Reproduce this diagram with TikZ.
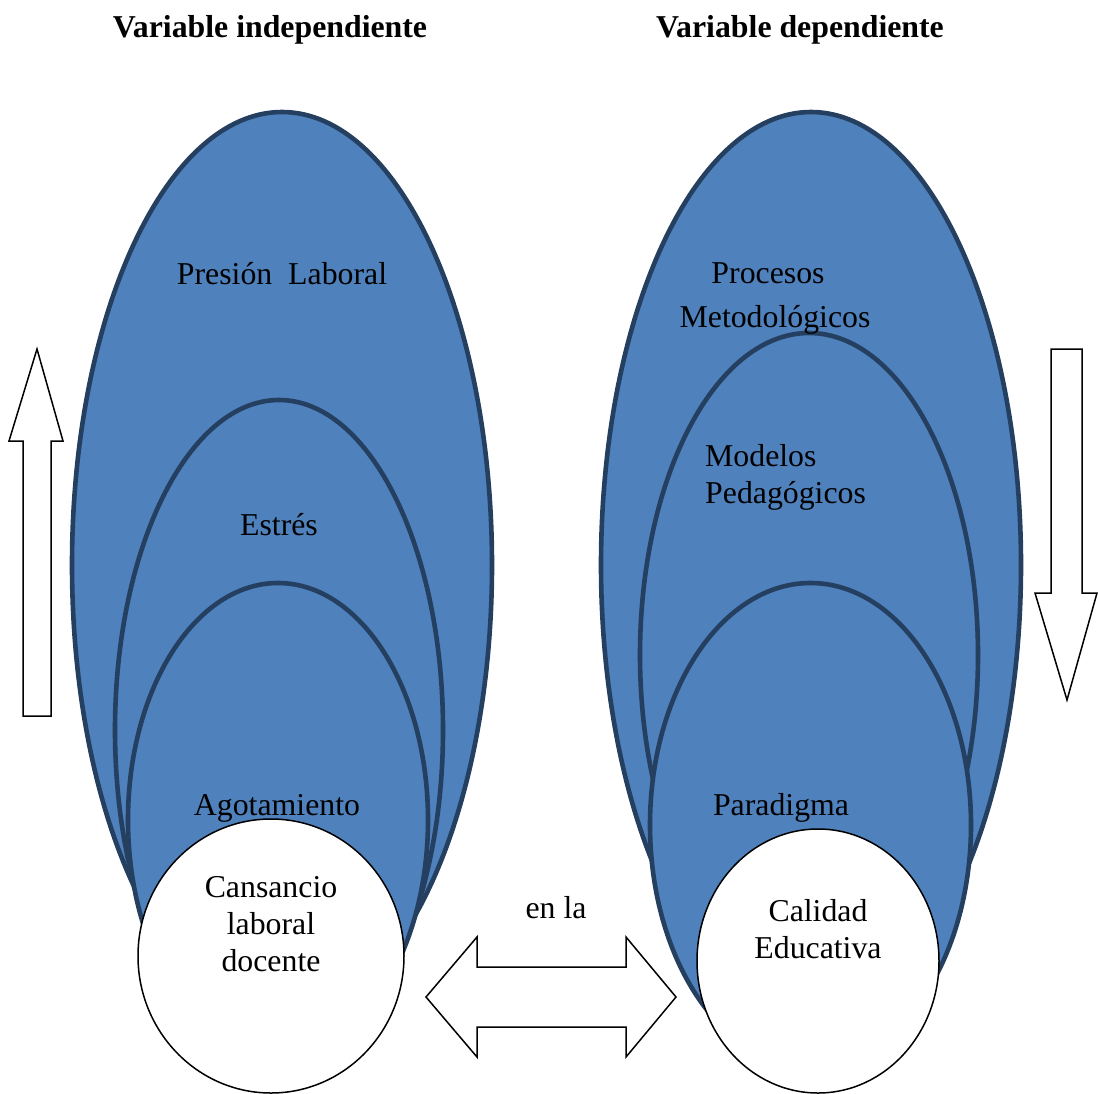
\documentclass[tikz,border=0pt]{standalone}
\usepackage{fontspec}
\setmainfont{Liberation Serif}
\usetikzlibrary{shapes.geometric}
\definecolor{fillblue}{HTML}{4F81BD}
\definecolor{edgeblue}{HTML}{243F60}
\begin{document}
\begin{tikzpicture}[x=1pt,y=-1pt,
  blob/.style={fill=fillblue,draw=edgeblue,line width=4.6pt},
  core/.style={ellipse,fill=white,draw=black,line width=1.5pt,inner sep=0pt},
  lbl/.style={font=\fontsize{31.8}{37}\selectfont,inner sep=0pt,align=center},
  ttl/.style={font=\fontsize{31.8}{37}\selectfont\bfseries,inner sep=0pt},
  blockarrow/.style={fill=white,draw=black,line width=1.5pt,line join=miter}]
\useasboundingbox (0,0) rectangle (1098,1093);
% titles
\node[ttl,anchor=base] (tind) at (270,37) {Variable independiente};
\node[ttl,anchor=base] (tdep) at (800,37) {Variable dependiente};
% left ellipses
\draw[blob] (282,565) ellipse [x radius=210, y radius=453];
\draw[blob] (279,730) ellipse [x radius=164, y radius=330];
\draw[blob] (278,820) ellipse [x radius=150, y radius=237];
\node[core,minimum width=266pt,minimum height=274pt] (cl) at (271,956) {};
% right ellipses
\draw[blob] (811,565) ellipse [x radius=210, y radius=453];
\draw[blob] (809,655) ellipse [x radius=169, y radius=322];
\draw[blob] (810.5,825) ellipse [x radius=160.5, y radius=242];
\node[core,minimum width=242pt,minimum height=264pt] (cr) at (818,961) {};
% left labels
\node[lbl,anchor=base] (presion) at (282,284) {Presión\ \ Laboral};
\node[lbl,anchor=base] (estres) at (279,535) {Estrés};
\node[lbl,anchor=base] (agot) at (277,815) {Agotamiento};
\node[lbl,anchor=base] (cans1) at (271,897) {Cansancio};
\node[lbl,anchor=base] (cans2) at (271,934) {laboral};
\node[lbl,anchor=base] (cans3) at (271,971) {docente};
% right labels
\node[lbl,anchor=base] (proc) at (768,283) {Procesos};
\node[lbl,anchor=base] (metod) at (775,327) {Metodológicos};
\node[lbl,anchor=base west] (model) at (705,466) {Modelos};
\node[lbl,anchor=base west] (pedag) at (705,503) {Pedagógicos};
\node[lbl,anchor=base] (parad) at (781,815) {Paradigma};
\node[lbl,anchor=base] (cal1) at (818,921) {Calidad};
\node[lbl,anchor=base] (cal2) at (818,958) {Educativa};
% middle label
\node[lbl,anchor=base] (enla) at (556,918) {en la};
% up arrow (left)
\draw[blockarrow] (23,716) -- (23,441) -- (9,441) -- (37,349) -- (63,441) -- (51,441) -- (51,716) -- cycle;
% down arrow (right)
\draw[blockarrow] (1051,349) -- (1082,349) -- (1082,593) -- (1097,593) -- (1067,700) -- (1035,593) -- (1051,593) -- cycle;
% double arrow
\draw[blockarrow] (426,997) -- (477,937) -- (477,967) -- (626,967) -- (626,937) -- (676,997) -- (626,1057) -- (626,1027) -- (477,1027) -- (477,1057) -- cycle;
\end{tikzpicture}
\end{document}
